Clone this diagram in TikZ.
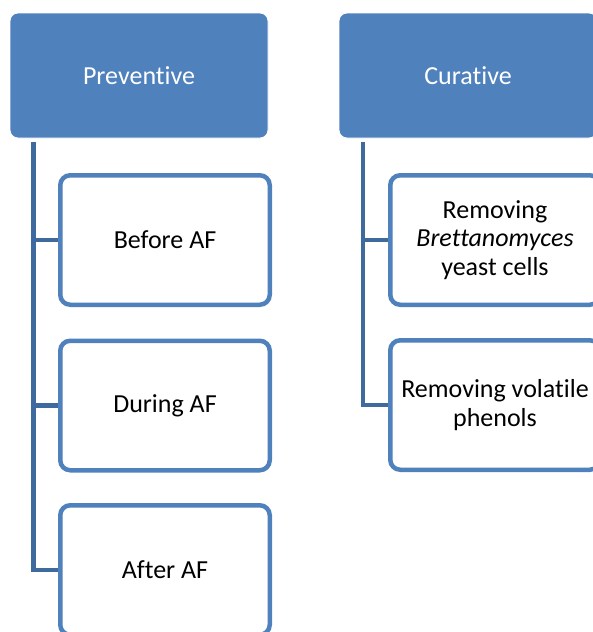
\documentclass[tikz,border=0pt]{standalone}
\usepackage{fontspec}
\setmainfont[Ligatures=NoCommon]{Carlito}
\usetikzlibrary{backgrounds}
\definecolor{hdrblue}{HTML}{4F81BD}
\definecolor{connblue}{HTML}{3E6A9E}
\begin{document}
\begin{tikzpicture}[x=1pt,y=-1pt,
  header/.style={fill=hdrblue,draw=white,line width=0.8pt,rounded corners=8pt,
    minimum width=258pt,minimum height=125pt,text=white,inner sep=0pt,
    font=\fontsize{26}{28.5}\selectfont},
  leaf/.style={draw=hdrblue,fill=white,line width=4.5pt,rounded corners=10pt,
    minimum width=209.5pt,minimum height=129.5pt,inner sep=0pt,align=center,
    font=\fontsize{26}{28.5}\selectfont},
  conn/.style={draw=connblue,line width=4.5pt}]
\useasboundingbox (0,0) rectangle (593,632);
\clip (0,0) rectangle (593,632);
% headers
\node[header] (prev) at (139,75.5) {Preventive};
\node[header] (cur) at (468,75.5) {Curative};
% left leaves
\node[leaf] (b1) at (165,240) {Before AF};
\node[leaf] (b2) at (165,405.5) {During AF};
\node[leaf] (b3) at (165,570) {After AF};
% right leaves
\node[leaf] (c1) at (495,240) {Removing\\\textit{Brettanomyces}\\yeast cells};
\node[leaf] (c2) at (495,405) {Removing volatile\\phenols};
% connectors
\coordinate (p0) at (33.5,142);
\coordinate (q0) at (363,142);
\begin{scope}[on background layer]
\draw[conn] (p0) |- (b3.west);
\draw[conn] (p0 |- b1.west) -- (b1.west);
\draw[conn] (p0 |- b2.west) -- (b2.west);
\draw[conn] (q0) |- (c2.west);
\draw[conn] (q0 |- c1.west) -- (c1.west);
\end{scope}
\end{tikzpicture}
\end{document}
